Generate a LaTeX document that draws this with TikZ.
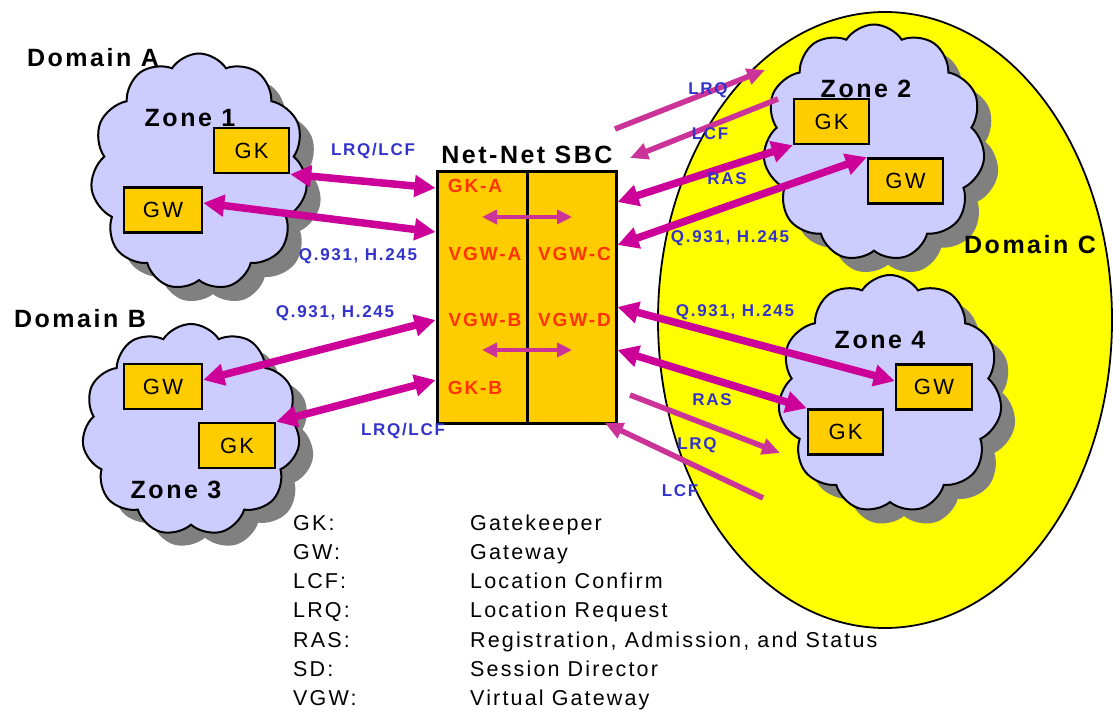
\documentclass[tikz,border=0pt]{standalone}
\usepackage{fontspec}
\setmainfont{Liberation Sans}
\newfontfamily\lsans[LetterSpace=10]{Liberation Sans}
\usetikzlibrary{shapes.symbols,arrows.meta}
\definecolor{cloudfill}{HTML}{CCCCFF}
\definecolor{shadowgray}{HTML}{808080}
\definecolor{domyellow}{HTML}{FFFF00}
\definecolor{boxorange}{HTML}{FFCC00}
\definecolor{magthick}{HTML}{CC0099}
\definecolor{magthin}{HTML}{CC3399}
\definecolor{labblue}{HTML}{3333CC}
\definecolor{sbcred}{HTML}{FF3300}
\begin{document}
\begin{tikzpicture}[x=1pt,y=-1pt,
  zonecloud/.style={cloud, cloud puffs=11, cloud puff arc=115, cloud ignores aspect, inner sep=0pt, draw=black, line width=2pt, fill=cloudfill},
  cloudshadow/.style={cloud, cloud puffs=11, cloud puff arc=115, cloud ignores aspect, inner sep=0pt, fill=shadowgray},
  devbox/.style={draw=black, line width=2.5pt, fill=boxorange, minimum width=76pt, minimum height=45pt, inner sep=0pt, font=\fontsize{22}{26}\selectfont\lsans},
  sbcbox/.style={draw=black, line width=3pt, fill=boxorange, minimum height=251pt, inner sep=0pt},
  biglabel/.style={font=\fontsize{25}{30}\selectfont\lsans\bfseries, inner sep=0pt},
  bluelabel/.style={text=labblue, font=\fontsize{17}{20}\selectfont\lsans\bfseries, inner sep=0pt},
  sbclabel/.style={text=sbcred, font=\fontsize{19}{23}\selectfont\lsans\bfseries, inner sep=0pt},
  legendtext/.style={font=\fontsize{21.5}{25}\selectfont\lsans, inner sep=0pt, anchor=base west},
  bigarrow/.style={draw=magthick, line width=7.5pt, {Triangle[length=21pt,width=21pt]}-{Triangle[length=21pt,width=21pt]}},
  thinarrow/.style={draw=magthin, line width=5.5pt, -{Triangle[length=18pt,width=16pt]}},
  innerarrow/.style={draw=magthin, line width=4.5pt, {Triangle[length=15pt,width=14pt]}-{Triangle[length=15pt,width=14pt]}}
]
\useasboundingbox (0,0) rectangle (1113,711);
\fill[white] (0,0) rectangle (1113,711);

% Domain C
\draw[fill=domyellow, line width=1.8pt] (885,320) ellipse [x radius=227pt, y radius=308pt];

% cloud shadows
\node[cloudshadow, minimum width=217pt, minimum height=237pt] at (213,186) {};
\node[cloudshadow, minimum width=218pt, minimum height=212pt] at (205,443) {};
\node[cloudshadow, minimum width=222pt, minimum height=237pt] at (888,157) {};
\node[cloudshadow, minimum width=224pt, minimum height=238pt] at (904,408) {};

% clouds
\node[zonecloud, minimum width=217pt, minimum height=237pt] (z1) at (199,172) {};
\node[zonecloud, minimum width=218pt, minimum height=212pt] (z3) at (191,430) {};
\node[zonecloud, minimum width=222pt, minimum height=237pt] (z2) at (874,143) {};
\node[zonecloud, minimum width=224pt, minimum height=238pt] (z4) at (890,394) {};

% zone and domain labels
\node[biglabel] (domA) at (93,58) {Domain A};
\node[biglabel] (domB) at (80,319) {Domain B};
\node[biglabel] (domC) at (1030,245) {Domain C};
\node[biglabel] (zl1) at (190,118) {Zone 1};
\node[biglabel] (zl2) at (866,89) {Zone 2};
\node[biglabel] (zl3) at (176,490) {Zone 3};
\node[biglabel] (zl4) at (880,340) {Zone 4};

% devices
\node[devbox, minimum width=75pt] (gk1) at (251.5,150.5) {GK};
\node[devbox, minimum width=78pt] (gw1) at (163,210) {GW};
\node[devbox, minimum width=78pt] (gw3) at (163,386.5) {GW};
\node[devbox] (gk3) at (237,445.5) {GK};
\node[devbox, minimum width=75pt] (gk2) at (831.5,121.5) {GK};
\node[devbox, minimum width=75pt] (gw2) at (905.5,181) {GW};
\node[devbox] (gw4) at (934,387) {GW};
\node[devbox, minimum width=75pt] (gk4) at (845.5,432) {GK};

% SBC
\node[sbcbox, minimum width=90pt] (sbcL) at (482,297.5) {};
\node[sbcbox, minimum width=89pt] (sbcR) at (571.5,297.5) {};
\node[biglabel] (sbct) at (527,155) {Net-Net SBC};
\node[sbclabel] (gka) at (475,186) {GK-A};
\node[sbclabel] (vgwa) at (485,253.5) {VGW-A};
\node[sbclabel] (vgwc) at (574.5,253.5) {VGW-C};
\node[sbclabel] (vgwb) at (485,320) {VGW-B};
\node[sbclabel] (vgwd) at (574.5,320) {VGW-D};
\node[sbclabel] (gkb) at (475,387.5) {GK-B};

\coordinate (inA1) at (482,217);
\coordinate (inA2) at (572,217);
\coordinate (inB1) at (482,350);
\coordinate (inB2) at (572,350);
\draw[innerarrow] (inA1) -- (inA2);
\draw[innerarrow] (inB1) -- (inB2);

% thick arrows
\draw[bigarrow] (gk1.south east) -- (sbcL.west |- 0,188);
\draw[bigarrow] (gw1.east |- 0,203) -- (sbcL.west |- 0,232);
\draw[bigarrow] (gw3.east |- 0,380) -- (sbcL.west |- 0,320);
\draw[bigarrow] (gk3.north east) -- (sbcL.west |- 0,380);
\draw[bigarrow] (sbcR.east |- 0,202) -- (gk2.south west);
\draw[bigarrow] (sbcR.east |- 0,245) -- (gw2.north west);
\draw[bigarrow] (sbcR.east |- 0,307) -- (gw4.west |- 0,381);
\draw[bigarrow] (sbcR.east |- 0,350) -- (gk4.north west);

% thin LRQ/LCF arrows
\coordinate (lrq1s) at (615,129);
\coordinate (lrq1e) at (765,70);
\coordinate (lcf1s) at (778,99);
\coordinate (lcf1e) at (630,158);
\coordinate (lrq2s) at (630,395);
\coordinate (lrq2e) at (780,453);
\coordinate (lcf2s) at (763,498);
\coordinate (lcf2e) at (605,423);
\draw[thinarrow] (lrq1s) -- (lrq1e);
\draw[thinarrow] (lcf1s) -- (lcf1e);
\draw[thinarrow] (lrq2s) -- (lrq2e);
\draw[thinarrow] (lcf2s) -- (lcf2e);

% blue labels
\node[bluelabel] (b1) at (373,151) {LRQ/LCF};
\node[bluelabel] (b2) at (358,256.5) {Q.931, H.245};
\node[bluelabel] (b3) at (335,313.5) {Q.931, H.245};
\node[bluelabel] (b4) at (403,431) {LRQ/LCF};
\node[bluelabel] (b5) at (708,90) {LRQ};
\node[bluelabel] (b6) at (710,134) {LCF};
\node[bluelabel] (b7) at (727,178.5) {RAS};
\node[bluelabel] (b8) at (730,238) {Q.931, H.245};
\node[bluelabel] (b9) at (735,312.5) {Q.931, H.245};
\node[bluelabel] (b10) at (712,400) {RAS};
\node[bluelabel] (b11) at (697,445) {LRQ};
\node[bluelabel] (b12) at (680,490.5) {LCF};

% legend
\node[legendtext] (l1a) at (293,530) {GK:};
\node[legendtext] (l1b) at (470,530) {Gatekeeper};
\node[legendtext] (l2a) at (293,559) {GW:};
\node[legendtext] (l2b) at (470,559) {Gateway};
\node[legendtext] (l3a) at (293,588) {LCF:};
\node[legendtext] (l3b) at (470,588) {Location Confirm};
\node[legendtext] (l4a) at (293,617) {LRQ:};
\node[legendtext] (l4b) at (470,617) {Location Request};
\node[legendtext] (l5a) at (293,647) {RAS:};
\node[legendtext] (l5b) at (470,647) {Registration, Admission, and Status};
\node[legendtext] (l6a) at (293,676) {SD:};
\node[legendtext] (l6b) at (470,676) {Session Director};
\node[legendtext] (l7a) at (293,705) {VGW:};
\node[legendtext] (l7b) at (470,705) {Virtual Gateway};
\end{tikzpicture}
\end{document}
